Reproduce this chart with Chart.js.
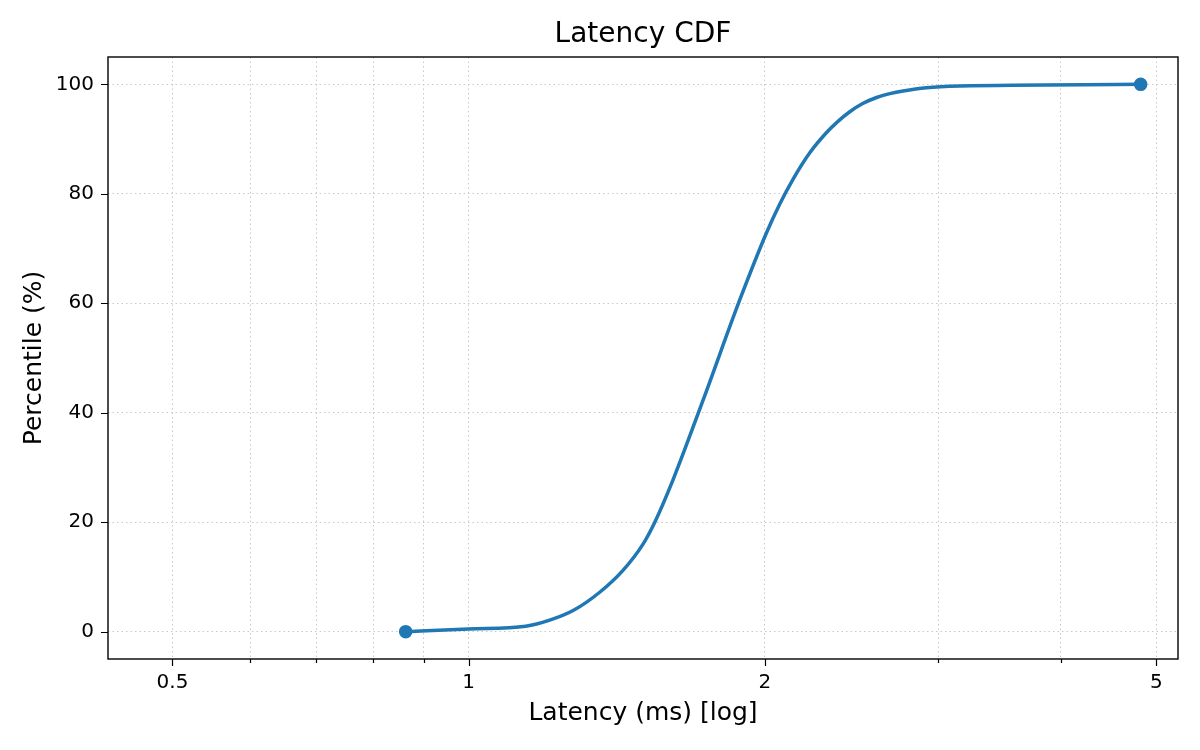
<!DOCTYPE html>
<html>
<head>
<meta charset="utf-8">
<script src="https://cdn.jsdelivr.net/npm/chart.js@4.4.1/dist/chart.umd.min.js"></script>
<style>
  body { margin: 0; background: #fff; }
  #wrap { width: 1200px; height: 750px; }
</style>
</head>
<body>
<div id="wrap"><canvas id="mycanvas" width="1200" height="750"></canvas></div>
<script>
// percentile (%) vs latency (ms)
var percentile = [0, 0.5, 1, 2.1, 3.85, 7.2, 11.2, 16.0, 20.0, 27.7, 42.3, 60.6, 72.8, 78.2, 82.7, 87.5, 91.2, 93.2, 95.0, 96.5, 97.6, 98.3, 98.8, 99.4, 99.7, 100];
var latencyMs = [0.863, 1.0, 1.143, 1.209, 1.277, 1.359, 1.435, 1.504, 1.546, 1.613, 1.731, 1.886, 2.007, 2.072, 2.137, 2.222, 2.311, 2.372, 2.44, 2.515, 2.598, 2.68, 2.764, 2.92, 3.157, 4.82];

var xMajorTicks = [0.5, 1, 2, 5];
var xMinorTicks = [0.6, 0.7, 0.8, 0.9, 3, 4];
var yTicks = [0, 20, 40, 60, 80, 100];

var chartTitle = 'Latency CDF';

var points = [];
for (var i in latencyMs) {
    points.push({x: latencyMs[i], y: percentile[i]});
}

var fontFam = "'DejaVu Sans', sans-serif";

// box round the plot, outward tick marks, and the title centred over the plot area
var frameTicks = {
    id: 'frameTicks',
    afterDraw: function(chart) {
        var ctx = chart.ctx;
        var a = chart.chartArea;
        var xs = chart.scales.x, ys = chart.scales.y;
        ctx.save();
        ctx.strokeStyle = '#000';
        ctx.lineWidth = 1.4;
        ctx.strokeRect(a.left, a.top, a.right - a.left, a.bottom - a.top);
        ctx.lineWidth = 1.2;
        ctx.beginPath();
        xMajorTicks.forEach(function(v) {
            var px = Math.round(xs.getPixelForValue(v)) + 0.5;
            ctx.moveTo(px, a.bottom); ctx.lineTo(px, a.bottom + 7);
        });
        xMinorTicks.forEach(function(v) {
            var px = Math.round(xs.getPixelForValue(v)) + 0.5;
            ctx.moveTo(px, a.bottom); ctx.lineTo(px, a.bottom + 4);
        });
        yTicks.forEach(function(v) {
            var py = Math.round(ys.getPixelForValue(v)) + 0.5;
            ctx.moveTo(a.left, py); ctx.lineTo(a.left - 7, py);
        });
        ctx.stroke();

        ctx.fillStyle = '#000';
        ctx.font = "28px " + fontFam;
        ctx.textAlign = 'center';
        ctx.textBaseline = 'middle';
        ctx.fillText(chartTitle, (a.left + a.right) / 2, 35);
        ctx.restore();
    }
};

var ctx = document.getElementById('mycanvas');

var lineChart = new Chart(ctx, {
    type: 'scatter',
    data: {
        datasets: [{
            label: 'CDF',
            data: points,
            showLine: true,
            borderColor: '#1f77b4',
            backgroundColor: '#1f77b4',
            borderWidth: 3.5,
            cubicInterpolationMode: 'monotone',
            borderJoinStyle: 'round',
            pointRadius: function(c) {
                return (c.dataIndex === 0 || c.dataIndex === points.length - 1) ? 5 : 0;
            },
            pointHoverRadius: 0
        }]
    },
    options: {
        responsive: false,
        animation: false,
        events: [],
        layout: { padding: { left: 0, right: 22, top: 57, bottom: 0 } },
        plugins: {
            legend: { display: false },
            tooltip: { enabled: false },
            title: { display: false }
        },
        scales: {
            x: {
                type: 'logarithmic',
                min: 0.43,
                max: 5.26,
                afterBuildTicks: function(scale) {
                    scale.ticks = xMinorTicks.concat(xMajorTicks).sort(function(a, b) { return a - b; })
                        .map(function(v) { return {value: v}; });
                },
                afterFit: function(scale) { scale.height = 91; },
                ticks: {
                    autoSkip: false,
                    maxRotation: 0,
                    padding: 12,
                    color: '#000',
                    font: { family: fontFam, size: 20 },
                    callback: function(v) {
                        return xMajorTicks.indexOf(v) >= 0 ? String(v) : '';
                    }
                },
                grid: { color: '#c8c8c8', lineWidth: 1, drawTicks: false },
                border: { display: false, dash: [1.5, 3] },
                title: {
                    display: true,
                    text: 'Latency (ms) [log]',
                    color: '#000',
                    font: { family: fontFam, size: 25 },
                    padding: { top: 0, bottom: 22 }
                }
            },
            y: {
                min: -5,
                max: 105,
                afterBuildTicks: function(scale) {
                    scale.ticks = yTicks.map(function(v) { return {value: v}; });
                },
                afterFit: function(scale) { scale.width = 108; },
                ticks: {
                    padding: 14,
                    color: '#000',
                    font: { family: fontFam, size: 20 }
                },
                grid: { color: '#c8c8c8', lineWidth: 1, drawTicks: false },
                border: { display: false, dash: [1.5, 3] },
                title: {
                    display: true,
                    text: 'Percentile (%)',
                    color: '#000',
                    font: { family: fontFam, size: 25 },
                    padding: { top: 19, bottom: 0 }
                }
            }
        }
    },
    plugins: [frameTicks]
});
</script>
</body>
</html>
